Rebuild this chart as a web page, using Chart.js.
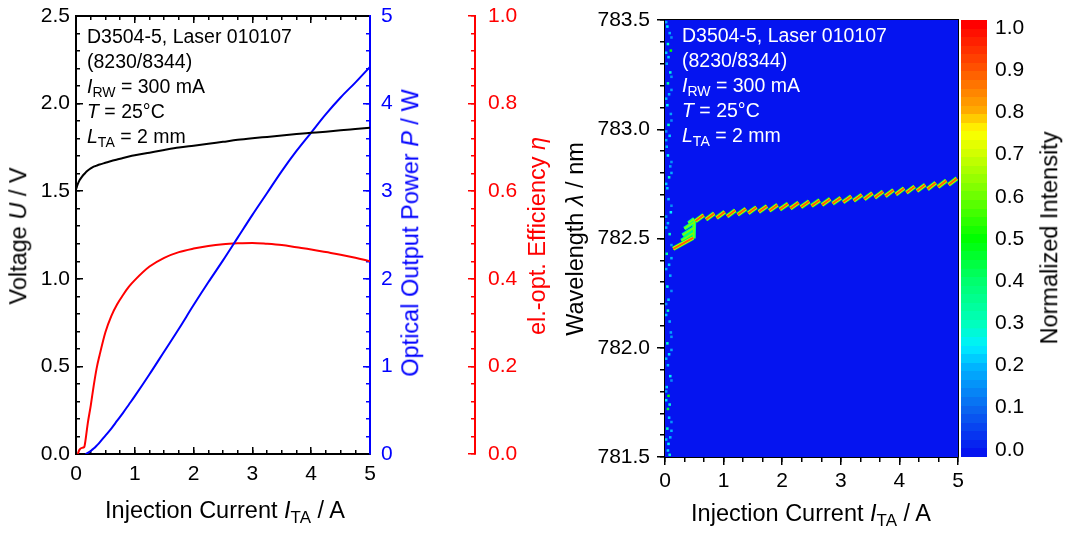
<!DOCTYPE html>
<html><head><meta charset="utf-8">
<script src="https://cdn.jsdelivr.net/npm/chart.js@4.4.1/dist/chart.umd.min.js"></script>
<style>
html,body{margin:0;padding:0;background:#fff;}
body{width:1065px;height:540px;position:relative;overflow:hidden;font-family:"Liberation Sans",Arial,sans-serif;}
canvas{position:absolute;top:0;}
.t{position:absolute;white-space:nowrap;font-size:23.5px;line-height:1;}
.rot{transform:translate(-50%,-50%) rotate(-90deg);}
.hz{transform:translate(-50%,-50%);}
sub{font-size:72%;vertical-align:-0.3em;line-height:0;}
.note{position:absolute;font-size:19.5px;line-height:25px;white-space:nowrap;}
</style></head>
<body>
<canvas id="left" width="560" height="540" style="left:0"></canvas>
<canvas id="map" width="415" height="540" style="left:560px"></canvas>
<canvas id="cbar" width="115" height="540" style="left:950px"></canvas>

<div class="note" style="left:87px;top:24px;color:#000">D3504-5, Laser 010107<br>(8230/8344)<br><i>I</i><sub>RW</sub> = 300 mA<br><i>T</i> = 25°C<br><i>L</i><sub>TA</sub> = 2 mm</div>
<div class="note" style="left:682px;top:23px;color:#fff">D3504-5, Laser 010107<br>(8230/8344)<br><i>I</i><sub>RW</sub> = 300 mA<br><i>T</i> = 25°C<br><i>L</i><sub>TA</sub> = 2 mm</div>

<div class="t hz" style="left:225px;top:511px;">Injection Current <i>I</i><sub>TA</sub> / A</div>
<div class="t hz" style="left:811px;top:514px;">Injection Current <i>I</i><sub>TA</sub> / A</div>
<div class="t rot" style="left:19px;top:236px;">Voltage <i>U</i> / V</div>
<div class="t rot" style="left:411px;top:233px;color:#0000ff">Optical Output Power <i>P</i> / W</div>
<div class="t rot" style="left:538px;top:236px;color:#ff0000">el.-opt. Efficiency <i>η</i></div>
<div class="t rot" style="left:576px;top:239px;">Wavelength <i>λ</i> / nm</div>
<div class="t rot" style="left:1050px;top:238px;">Normalized Intensity</div>

<script>
// ---------------- data: left panel (L-I-V) ----------------
const currentA = [0,0.03,0.06,0.1,0.14,0.16,0.18,0.2,0.25,0.3,0.35,0.4,0.5,0.6,0.7,0.8,0.9,1.0,1.25,1.5,1.75,2.0,2.25,2.5,2.75,3.0,3.25,3.5,3.75,4.0,4.25,4.5,4.75,5.0];
const voltageV = [1.51,1.54,1.562,1.582,1.598,1.605,1.612,1.618,1.63,1.64,1.646,1.652,1.662,1.672,1.681,1.69,1.698,1.705,1.72,1.735,1.749,1.76,1.771,1.782,1.793,1.802,1.81,1.818,1.826,1.833,1.84,1.848,1.855,1.862];
const powerW = [null,null,null,null,null,0.0,0.005,0.012,0.035,0.062,0.095,0.13,0.21,0.29,0.38,0.47,0.565,0.66,0.91,1.17,1.43,1.70,1.96,2.21,2.47,2.73,2.98,3.23,3.46,3.67,3.88,4.07,4.24,4.42];
const efficiency = [null,0.0,0.01,0.014,0.016,0.03,0.05,0.07,0.11,0.155,0.195,0.225,0.278,0.315,0.342,0.363,0.382,0.397,0.428,0.448,0.461,0.469,0.475,0.479,0.481,0.482,0.48,0.477,0.472,0.467,0.461,0.455,0.448,0.44];

// tick labels
const currentTicks = [0,1,2,3,4,5];
const voltageTicks = [0,0.5,1.0,1.5,2.0,2.5];
const powerTicks = [0,1,2,3,4,5];
const efficiencyTicks = [0,0.2,0.4,0.6,0.8,1.0];
const wavelengthTicks = [781.5,782.0,782.5,783.0,783.5];
const intensityTicks = [0,0.1,0.2,0.3,0.4,0.5,0.6,0.7,0.8,0.9,1.0];

// ---------------- data: right panel (spectral map) ----------------
// main lasing mode segments (start/end current in A, start/end wavelength in nm)
const modeStartA  = [0.14,0.52,0.70,0.88,1.06,1.24,1.42,1.60,1.78,1.96,2.14,2.32,2.50,2.68,2.86,3.04,3.22,3.40,3.58,3.76,3.94,4.12,4.30,4.48,4.66,4.84];
const modeEndA    = [0.48,0.66,0.84,1.02,1.20,1.38,1.56,1.74,1.92,2.10,2.28,2.46,2.64,2.82,3.00,3.18,3.36,3.54,3.72,3.90,4.08,4.26,4.44,4.62,4.80,4.98];
const modeStartNm = [782.453,782.580,782.587,782.594,782.601,782.609,782.616,782.622,782.627,782.633,782.638,782.644,782.649,782.654,782.660,782.666,782.673,782.680,782.687,782.694,782.702,782.710,782.718,782.726,782.736,782.746];
const modeEndNm   = [782.503,782.607,782.615,782.622,782.629,782.636,782.643,782.648,782.654,782.659,782.664,782.670,782.675,782.681,782.686,782.693,782.700,782.708,782.715,782.722,782.730,782.738,782.746,782.755,782.765,782.775];
// weaker side modes around the threshold region
const sideStartA  = [0.28,0.30,0.33,0.40,0.49];
const sideEndA    = [0.48,0.50,0.50,0.50,0.50];
const sideStartNm = [782.490,782.515,782.545,782.570,782.500];
const sideEndNm   = [782.525,782.550,782.575,782.590,782.585];
// amplified spontaneous emission speckles below threshold
const speckleA  = [0.04,0.08,0.05,0.10,0.06,0.03,0.09,0.05,0.07,0.04,0.10,0.06,0.08,0.03,0.05,0.09,0.07,0.04,0.06,0.10,0.05,0.08,0.03,0.07,0.09,0.04,0.06,0.05,0.08,0.10,0.04,0.07,0.05,0.09,0.03,0.06,0.08,0.05,0.07,0.04,0.09,0.06,0.05,0.08,
                   0.02,0.11,0.02,0.11,0.02,0.11,0.02,0.11,0.02,0.11,0.02,0.11,0.02,0.11,0.02,0.11,0.02,0.11,0.02,0.11,0.02,0.11,0.02,0.11,0.02,0.11,0.02,0.11,0.02,0.11];
const speckleNm = [783.47,783.44,783.39,783.36,783.33,783.30,783.26,783.21,783.16,783.11,783.07,783.02,782.97,782.92,782.88,782.83,782.78,782.73,782.68,782.62,782.57,782.52,782.43,782.38,782.33,782.28,782.22,782.17,782.12,782.07,782.02,781.97,781.92,781.87,781.82,781.78,781.74,781.72,781.68,781.63,781.59,781.56,781.53,781.51,
                   783.49,783.42,783.35,783.24,783.14,783.04,782.95,782.85,782.75,782.65,782.55,782.47,782.36,782.26,782.15,782.05,781.95,781.85,781.76,781.66,781.58,783.18,782.99,782.80,782.60,782.41,782.20,781.99,781.80,781.62];
const speckleI  = [0.25,0.2,0.3,0.5,0.22,0.18,0.28,0.35,0.2,0.25,0.18,0.3,0.22,0.2,0.26,0.18,0.3,0.22,0.2,0.25,0.2,0.3,0.35,0.22,0.2,0.28,0.22,0.3,0.2,0.18,0.3,0.24,0.2,0.26,0.22,0.5,0.28,0.45,0.22,0.3,0.2,0.26,0.22,0.28,
                   0.18,0.15,0.22,0.16,0.2,0.15,0.18,0.16,0.22,0.15,0.2,0.17,0.19,0.15,0.21,0.16,0.2,0.15,0.24,0.16,0.2,0.17,0.15,0.19,0.16,0.2,0.15,0.18,0.16,0.2];

// colour map of the intensity scale
const cmapStops  = [0.0,0.1,0.2,0.25,0.3,0.4,0.5,0.6,0.7,0.75,0.8,0.9,1.0];
const cmapColors = ['#0514f0','#0a64f0','#00b4ff','#00f0ff','#00ffbe','#00ff6e','#00ff00','#6eff00','#d2ff00','#ffff00','#ffaa00','#ff5000','#ff0000'];

// ---------------- helpers ----------------
const FONT = '"Liberation Sans", Arial, sans-serif';
function hex2rgb(h){return [parseInt(h.slice(1,3),16),parseInt(h.slice(3,5),16),parseInt(h.slice(5,7),16)];}
function cmap(v){
  v=Math.max(0,Math.min(1,v));
  for(let i=1;i<cmapStops.length;i++){
    if(v<=cmapStops[i]){
      const f=(v-cmapStops[i-1])/(cmapStops[i]-cmapStops[i-1]);
      const a=hex2rgb(cmapColors[i-1]), b=hex2rgb(cmapColors[i]);
      return 'rgb('+a.map((c,k)=>Math.round(c+(b[k]-c)*f)).join(',')+')';
    }
  }
  return cmapColors[cmapColors.length-1];
}
function steps(a,b,d){const r=[];for(let k=0;a+k*d<=b+1e-9;k++)r.push(+(a+k*d).toFixed(6));return r;}
function segs(x0,x1,y0,y1){const out=[];for(let i=0;i<x0.length;i++){out.push({x:x0[i],y:y0[i]},{x:x1[i],y:y1[i]},{x:x1[i],y:null});}return out;}
function axis(o){
  const horiz = (o.pos==='top'||o.pos==='bottom');
  return {
    type:'linear', position:o.pos, min:o.min, max:o.max, weight:o.weight||0,
    afterBuildTicks: s => { s.ticks = o.ticks.map(v=>({value:v})); },
    afterFit: s => { if(horiz) s.height=o.size; else s.width=o.size;
                     s.paddingTop=0; s.paddingBottom=0; s.paddingLeft=0; s.paddingRight=0; },
    ticks:{display:!!o.fmt, color:o.color||'#000', font:{family:FONT,size:o.font||21}, padding:o.pad||0,
           callback:o.fmt||(()=>''), autoSkip:false, maxRotation:0, minRotation:0, includeBounds:false},
    grid:{display:o.len!==0, drawOnChartArea:false, drawTicks:true, tickLength:o.len||0, color:o.color||'#000', lineWidth:o.tw||1.5},
    border:{display:!!o.border, color:o.color||'#000', width:2}
  };
}
const f1 = v => v.toFixed(1);
const f0 = v => v.toFixed(0);
const base = {animation:false, responsive:false, devicePixelRatio:1,
  plugins:{legend:{display:false}, tooltip:{enabled:false}}};

// ---------------- left chart ----------------
const pts = ys => currentA.map((x,i)=>({x, y: ys[i]}));
new Chart(document.getElementById('left'), {
  type:'scatter',
  data:{datasets:[
    {data:pts(voltageV), yAxisID:'yU', xAxisID:'x', showLine:true, borderColor:'#000', borderWidth:2, pointRadius:0, cubicInterpolationMode:'monotone'},
    {data:pts(powerW), yAxisID:'yP', xAxisID:'x', showLine:true, borderColor:'#0000ff', borderWidth:2, pointRadius:0, cubicInterpolationMode:'monotone'},
    {data:pts(efficiency), yAxisID:'yE', xAxisID:'x', showLine:true, borderColor:'#ff0000', borderWidth:2, pointRadius:0, cubicInterpolationMode:'monotone'}
  ]},
  options:Object.assign({}, base, {
    layout:{padding:0},
    scales:{
      x:   axis({pos:'bottom', min:0, max:5, ticks:currentTicks, size:86, len:-7, pad:15, fmt:f0, border:true, weight:0}),
      xm:  axis({pos:'bottom', min:0, max:5, ticks:steps(0,5,0.25), size:0, len:-4, weight:-1}),
      xt:  axis({pos:'top', min:0, max:5, ticks:currentTicks, size:16, len:-7, border:true, weight:0}),
      xtm: axis({pos:'top', min:0, max:5, ticks:steps(0,5,0.25), size:0, len:-4, weight:-1}),
      yU:  axis({pos:'left', min:0, max:2.5, ticks:voltageTicks, size:76, len:-7, pad:13, fmt:f1, border:true, weight:0}),
      yUm: axis({pos:'left', min:0, max:2.5, ticks:steps(0,2.5,0.1), size:0, len:-4, weight:-1}),
      yPm: axis({pos:'right', min:0, max:5, ticks:steps(0,5,0.2), size:0, len:-4, color:'#0000ff', weight:0}),
      yP:  axis({pos:'right', min:0, max:5, ticks:powerTicks, size:105, len:-7, pad:18, fmt:f0, border:true, color:'#0000ff', weight:1}),
      yEm: axis({pos:'right', min:0, max:1, ticks:steps(0,1,0.04), size:0, len:-4, color:'#ff0000', weight:2}),
      yE:  axis({pos:'right', min:0, max:1, ticks:efficiencyTicks, size:85, len:-7, pad:20, fmt:f1, border:true, color:'#ff0000', weight:3})
    }
  })
});

// ---------------- spectral map ----------------
const mapBg = {id:'mapBg', beforeDatasetsDraw(c){const a=c.chartArea, g=c.ctx; g.save(); g.fillStyle=cmapColors[0]; g.fillRect(a.left,a.top,a.right-a.left,a.bottom-a.top); g.restore();}};
const mainSegs = segs(modeStartA, modeEndA, modeStartNm, modeEndNm);
const sideSegs = segs(sideStartA, sideEndA, sideStartNm, sideEndNm);
new Chart(document.getElementById('map'), {
  type:'scatter',
  data:{datasets:[
    {data:mainSegs, order:0, showLine:true, spanGaps:false, borderColor:cmap(0.88), borderWidth:2, pointRadius:0, borderCapStyle:'butt'},
    {data:mainSegs, order:1, showLine:true, spanGaps:false, borderColor:cmap(0.7), borderWidth:3.2, pointRadius:0, borderCapStyle:'butt'},
    {data:mainSegs, order:2, showLine:true, spanGaps:false, borderColor:cmap(0.45), borderWidth:4.6, pointRadius:0, borderCapStyle:'butt'},
    {data:sideSegs, order:3, showLine:true, spanGaps:false, borderColor:cmap(0.62), borderWidth:1.5, pointRadius:0},
    {data:sideSegs, order:4, showLine:true, spanGaps:false, borderColor:cmap(0.38), borderWidth:4, pointRadius:0},
    {data:speckleA.map((x,i)=>({x, y:speckleNm[i]})), order:5, pointStyle:'rect', pointRadius:1.8, borderWidth:0,
     backgroundColor:speckleI.map(cmap)}
  ]},
  options:Object.assign({}, base, {
    layout:{padding:{top:20, right:17}},
    scales:{
      x:  axis({pos:'bottom', min:0, max:5, ticks:currentTicks, size:83, len:8, pad:4, fmt:f0, border:true, weight:0}),
      xm: axis({pos:'bottom', min:0, max:5, ticks:steps(0,5,1/3), size:0, len:5, weight:-1}),
      xt: axis({pos:'top', min:0, max:5, ticks:[], size:0, len:0, border:true}),
      y:  axis({pos:'left', min:781.5, max:783.5, ticks:wavelengthTicks, size:105, len:8, pad:7, fmt:f1, border:true, weight:0}),
      ym: axis({pos:'left', min:781.5, max:783.5, ticks:steps(781.5,783.5,0.1), size:0, len:5, weight:-1}),
      yr: axis({pos:'right', min:781.5, max:783.5, ticks:[], size:0, len:0, border:true})
    }
  }),
  plugins:[mapBg]
});

// ---------------- colour bar ----------------
const cbMin = -0.017, cbMax = 1.019, cbBands = 51;
new Chart(document.getElementById('cbar'), {
  type:'bar',
  data:{labels:[''], datasets:[{data:[[cbMin, cbMax]], barPercentage:1, categoryPercentage:1, borderWidth:0,
    backgroundColor: ctx => {
      const c = ctx.chart, a = c.chartArea; if(!a) return cmapColors[0];
      const ys = c.scales.y, y0 = ys.getPixelForValue(cbMin), y1 = ys.getPixelForValue(cbMax);
      const g = c.ctx.createLinearGradient(0, y0, 0, y1);
      for(let k=0;k<cbBands;k++){
        const col = cmap(k/(cbBands-1));
        g.addColorStop(k/cbBands, col); g.addColorStop((k+1)/cbBands - 1e-4, col);
      }
      return g;
    }}]},
  options:Object.assign({}, base, {
    layout:{padding:{left:11, top:20, bottom:83}},
    scales:{
      x:{display:false},
      y: axis({pos:'right', min:cbMin, max:cbMax, ticks:intensityTicks, size:78, len:0, pad:8, fmt:f1, border:false})
    }
  })
});
</script>
</body></html>
